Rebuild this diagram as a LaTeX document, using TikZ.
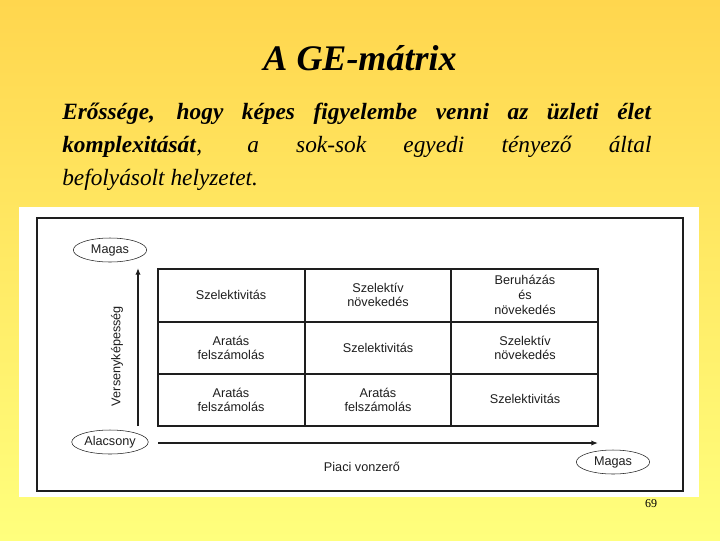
\documentclass[tikz,border=0pt]{standalone}
\usepackage{fontspec}
\setmainfont{Liberation Serif}
\newfontfamily\dsans{Liberation Sans}
\usetikzlibrary{arrows.meta,shapes.geometric}
\definecolor{bgtop}{RGB}{255,214,78}
\definecolor{bgbot}{RGB}{255,255,125}
\definecolor{ink}{RGB}{30,30,30}
\begin{document}
\begin{tikzpicture}[x=0.75pt,y=-0.75pt,
  cell/.style={font=\dsans\fontsize{9.5}{11}\selectfont,align=center,text=ink},
  oval/.style={ellipse,draw=ink,thin,inner sep=1pt,minimum width=55pt,minimum height=18pt,font=\dsans\fontsize{9.5}{11}\selectfont,text=ink},
  grid/.style={draw=ink,line width=1pt},
  axis/.style={draw=ink,line width=1pt,-{Latex[length=5pt,width=4pt]}}]
\useasboundingbox (0,0) rectangle (720,540);
\shade[top color=bgtop,bottom color=bgbot] (0,0) rectangle (720,540);
\node[font=\bfseries\itshape\fontsize{27}{30}\selectfont] (title) at (360,58) {A GE-mátrix};
\node[text width=442pt,align=justify,font=\fontsize{17.5}{24.5}\selectfont,inner sep=0pt,anchor=north west] (body) at (62,103)
 {\textbf{\textit{Erőssége, hogy képes figyelembe venni az üzleti élet}}\linebreak
  \textbf{\textit{komplexitását}}\textit{, a sok-sok egyedi tényező által}\linebreak
  \textit{befolyásolt helyzetet.}};
\node[fill=white,minimum width=510pt,minimum height=217.5pt,inner sep=0pt] (panel) at (359,352) {};
\draw[draw=ink,thick] (37,218) rectangle (683,491);
\draw[grid] (158,269) rectangle (598,426);
\draw[grid] (305,269) -- (305,426) (451,269) -- (451,426) (158,322) -- (598,322) (158,374) -- (598,374);
\node[cell] (c11) at (231,295) {Szelektivitás};
\node[cell] (c12) at (378,295) {Szelektív\\növekedés};
\node[cell] (c13) at (525,295) {Beruházás\\és\\növekedés};
\node[cell] (c21) at (231,348) {Aratás\\felszámolás};
\node[cell] (c22) at (378,348) {Szelektivitás};
\node[cell] (c23) at (525,348) {Szelektív\\növekedés};
\node[cell] (c31) at (231,400) {Aratás\\felszámolás};
\node[cell] (c32) at (378,400) {Aratás\\felszámolás};
\node[cell] (c33) at (525,399) {Szelektivitás};
\coordinate (vs) at (138,426); \coordinate (ve) at (138,268);
\coordinate (hs) at (158,443); \coordinate (he) at (598,443);
\draw[axis] (vs) -- (ve);
\draw[axis] (hs) -- (he);
\node[oval] (mt) at (110,250) {Magas};
\node[oval] (al) at (110,442) {Alacsony};
\node[oval] (mb) at (613,462) {Magas};
\node[cell] (px) at (362,467) {Piaci vonzerő};
\node[cell,rotate=90] (vk) at (117,356) {Versenyképesség};
\node[font=\fontsize{9}{10}\selectfont] (pg) at (651,504) {69};
\end{tikzpicture}
\end{document}
